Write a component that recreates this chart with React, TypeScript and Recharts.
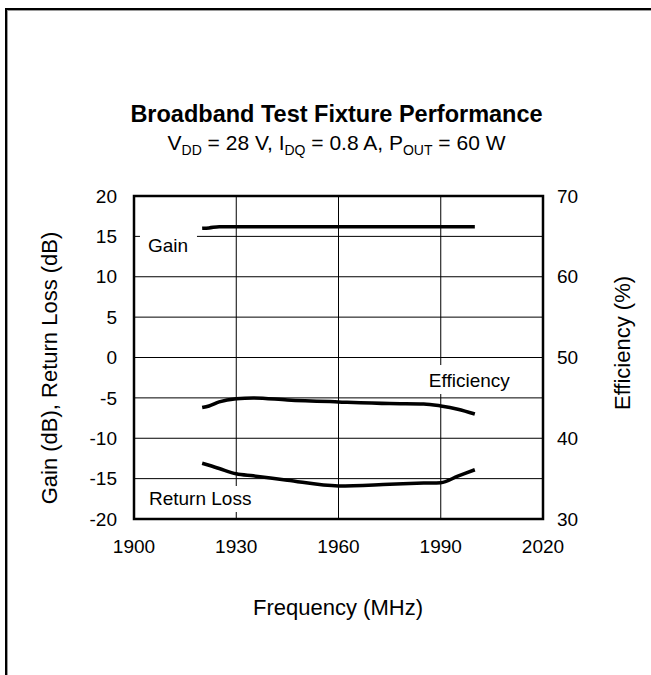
import {
  CartesianGrid,
  Label,
  Line,
  LineChart,
  ReferenceArea,
  ReferenceDot,
  XAxis,
  YAxis,
} from "recharts";

const FONT = "'Liberation Sans', Arial, Helvetica, sans-serif";

// frequency points (MHz)
const freqs = [1920, 1922, 1925, 1930, 1935, 1945, 1960, 1975, 1985, 1990, 1995, 2000];
// gain (dB)
const gain = [16.0, 16.05, 16.2, 16.2, 16.2, 16.2, 16.2, 16.2, 16.2, 16.2, 16.2, 16.2];
// efficiency (%)
const efficiency = [43.8, 44.0, 44.5, 44.9, 45.0, 44.75, 44.5, 44.3, 44.25, 44.0, 43.6, 43.0];
// return loss (dB)
const returnLoss = [-13.1, -13.35, -13.75, -14.4, -14.65, -15.2, -15.9, -15.7, -15.55, -15.5, -14.7, -13.9];

const xTicks = [1900, 1930, 1960, 1990, 2020];
const leftTicks = [-20, -15, -10, -5, 0, 5, 10, 15, 20];
const rightTicks = [30, 40, 50, 60, 70];

const data = freqs.map((f, i) => ({
  f,
  gain: gain[i],
  eff: efficiency[i],
  rl: returnLoss[i],
}));

function NoteBox(props: any) {
  const { cx, cy, text, left, right, up, down } = props;
  if (cx == null || cy == null) return null;
  return (
    <g>
      <rect x={cx - left} y={cy - up} width={left + right} height={up + down} fill="#fff" />
      <text x={cx} y={cy} dominantBaseline="central" fontFamily={FONT} fontSize={19} fill="#000">
        {text}
      </text>
    </g>
  );
}

function AxisTitle(props: any) {
  const { viewBox, value, dx, dy, angle } = props;
  if (!viewBox) return null;
  const x = viewBox.x + dx;
  const y = viewBox.y + dy;
  return (
    <text
      x={x}
      y={y}
      textAnchor="middle"
      dominantBaseline="central"
      transform={angle ? `rotate(${angle} ${x} ${y})` : undefined}
      fontFamily={FONT}
      fontSize={22}
      fill="#000"
    >
      {value}
    </text>
  );
}

const tickStyle = { fontSize: 19, fill: "#000", fontFamily: FONT };

export default function App() {
  return (
    <div style={{ position: "absolute", left: 0, top: 0, width: 651, height: 675, background: "#fff", overflow: "hidden", fontFamily: FONT }}>
      <div
        style={{
          position: "absolute",
          left: 5,
          top: 8,
          width: 660,
          height: 680,
          borderLeft: "2px solid #000",
          borderTop: "2px solid #000",
          boxShadow: "inset 1px 1px 0 #9a9a9a",
        }}
      />
      <div style={{ position: "absolute", left: 0, width: 673, top: 100, textAlign: "center", fontWeight: "bold", fontSize: 23.5, lineHeight: "28px", color: "#000" }}>
        Broadband Test Fixture Performance
      </div>
      <div style={{ position: "absolute", left: 0, width: 673, top: 130, textAlign: "center", fontSize: 21, lineHeight: "26px", color: "#000" }}>
        V<sub style={{ fontSize: 14 }}>DD</sub> = 28 V, I<sub style={{ fontSize: 14 }}>DQ</sub> = 0.8 A, P
        <sub style={{ fontSize: 14 }}>OUT</sub> = 60 W
      </div>
      <div style={{ position: "absolute", left: 0, top: 0 }}>
        <LineChart width={651} height={675} data={data} margin={{ top: 196, right: 0, bottom: 0, left: 0 }}>
          <CartesianGrid yAxisId="left" stroke="#000" strokeWidth={1} horizontalValues={leftTicks} verticalValues={xTicks} />
          <XAxis
            dataKey="f"
            type="number"
            domain={[1900, 2020]}
            ticks={xTicks}
            axisLine={false}
            tickLine={false}
            tickSize={0}
            tickMargin={21}
            height={156}
            tick={tickStyle}
          >
            <Label content={(p: any) => <AxisTitle {...p} value="Frequency (MHz)" dx={204} dy={88} />} />
          </XAxis>
          <YAxis
            yAxisId="left"
            domain={[-20, 20]}
            ticks={leftTicks}
            axisLine={false}
            tickLine={false}
            tickSize={0}
            tickMargin={17}
            width={134}
            tick={tickStyle}
          >
            <Label content={(p: any) => <AxisTitle {...p} value="Gain (dB), Return Loss (dB)" dx={49} dy={172} angle={-90} />} />
          </YAxis>
          <YAxis
            yAxisId="right"
            orientation="right"
            domain={[30, 70]}
            ticks={rightTicks}
            axisLine={false}
            tickLine={false}
            tickSize={0}
            tickMargin={14}
            width={108}
            tick={tickStyle}
          >
            <Label content={(p: any) => <AxisTitle {...p} value="Efficiency (%)" dx={79} dy={147} angle={-90} />} />
          </YAxis>
          <ReferenceDot
            yAxisId="left"
            x={1904.1}
            y={13.85}
            shape={(p: any) => <NoteBox {...p} text="Gain" left={8} right={49} up={13} down={13} />}
          />
          <ReferenceDot
            yAxisId="left"
            x={1986.5}
            y={-2.79}
            shape={(p: any) => <NoteBox {...p} text="Efficiency" left={10} right={95} up={15} down={14} />}
          />
          <ReferenceDot
            yAxisId="left"
            x={1904.4}
            y={-17.4}
            shape={(p: any) => <NoteBox {...p} text="Return Loss" left={8} right={112} up={12} down={14} />}
          />
          <ReferenceArea yAxisId="left" x1={1900} x2={2020} y1={-20} y2={20} fill="none" stroke="#000" strokeWidth={2.5} />
          <Line yAxisId="left" type="monotone" dataKey="gain" stroke="#000" strokeWidth={3.5} dot={false} isAnimationActive={false} />
          <Line yAxisId="right" type="monotone" dataKey="eff" stroke="#000" strokeWidth={3.5} dot={false} isAnimationActive={false} />
          <Line yAxisId="left" type="monotone" dataKey="rl" stroke="#000" strokeWidth={3.5} dot={false} isAnimationActive={false} />
        </LineChart>
      </div>
    </div>
  );
}
